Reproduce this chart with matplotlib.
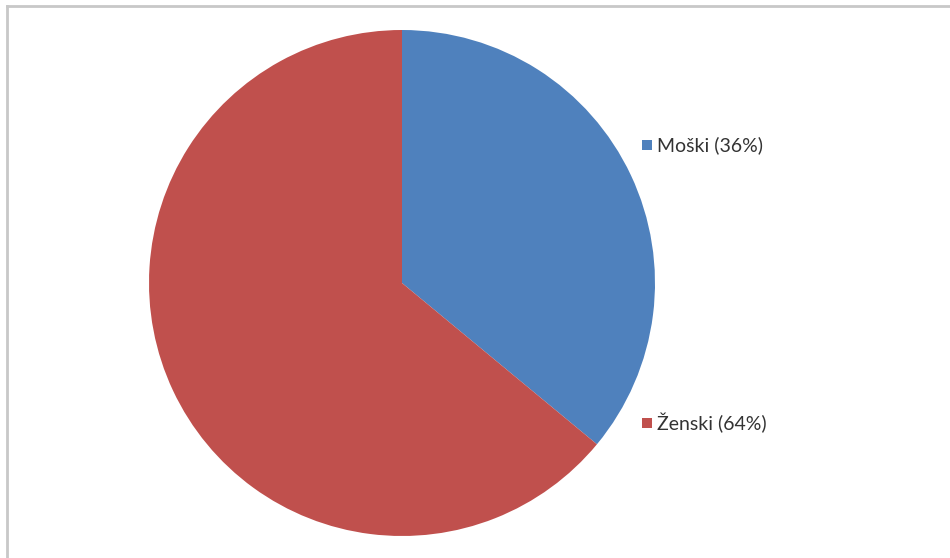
import matplotlib.pyplot as plt
from matplotlib.patches import Rectangle
from matplotlib.lines import Line2D

spol = ['Moški', 'Ženski']
delez = [36, 64]
barve = ['#4F81BD', '#C0504D']

W, H = 950, 558
fig = plt.figure(figsize=(W / 100, H / 100), dpi=100)
fig.patch.set_facecolor('white')

# pie centred at (402, 283) px, radius ~253 px
cx, cy, r = 402, 283, 253
ax = fig.add_axes([(cx - r) / W, (H - cy - r) / H, 2 * r / W, 2 * r / H])
ax.pie(delez, colors=barve, startangle=90, counterclock=False,
       wedgeprops=dict(linewidth=0))
ax.set_xlim(-1, 1)
ax.set_ylim(-1, 1)
ax.set_aspect('equal')
ax.axis('off')

# legend on the right, one entry per slice
leg_y = [145, 423]
for name, d, c, y in zip(spol, delez, barve, leg_y):
    fig.patches.append(Rectangle((642 / W, (H - y - 5) / H), 10 / W, 10 / H,
                                 transform=fig.transFigure, facecolor=c,
                                 edgecolor='none'))
    fig.text(657 / W, (H - y) / H, f'{name} ({d}%)', fontsize=14,
             family=['Lato', 'DejaVu Sans'], color='#333333', va='center')

# chart area frame (top and left edge visible)
fig.lines.append(Line2D([7 / W, 7 / W], [0, (H - 6) / H], transform=fig.transFigure,
                        color='#c8c8c8', linewidth=2))
fig.lines.append(Line2D([7 / W, 1], [(H - 6) / H, (H - 6) / H], transform=fig.transFigure,
                        color='#c8c8c8', linewidth=2))

fig.savefig('out.png', dpi=100, facecolor='white')
